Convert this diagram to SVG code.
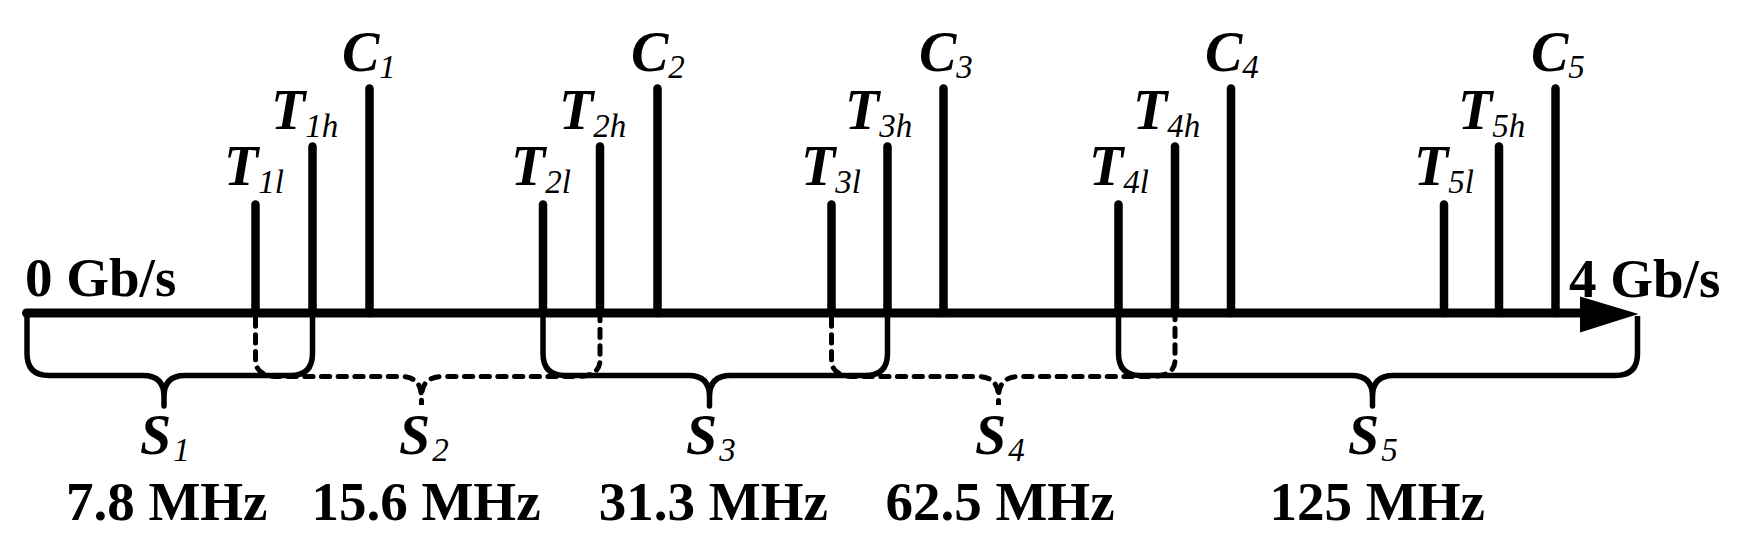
<svg xmlns="http://www.w3.org/2000/svg" width="1746" height="551" viewBox="0 0 1746 551">
<style>
.ax{stroke:#000;stroke-width:9;stroke-linecap:round;fill:none}
.tk{stroke:#000;stroke-width:8.5;stroke-linecap:round}
.br{fill:none;stroke:#000;stroke-width:5.5;stroke-linejoin:round}
.bd{fill:none;stroke:#000;stroke-width:5;stroke-linecap:round;stroke-dasharray:8.3 8.4}
.lb{font-family:"Liberation Serif","Times New Roman",serif;font-weight:bold;font-size:55px;fill:#000}
.sym{font-family:"Liberation Serif","Times New Roman",serif;font-weight:bold;font-style:italic;font-size:56px;fill:#000}
.sub{font-weight:normal;font-style:italic;font-size:33px}
</style>
<rect width="1746" height="551" fill="#fff"/>
<g id="axis">
<line class="ax" x1="26.5" y1="313" x2="1590" y2="313"/>
<polygon points="1580,296.5 1638.5,314 1580,332.5" fill="#000"/>
<text class="lb" x="25" y="296">0 Gb/s</text>
<text class="lb" x="1569" y="297">4 Gb/s</text>
</g>
<g id="connectors">
<path class="bd" d="M255.5 318 V360 Q255.5 376.5 279 376.5 H400.5 Q421.5 376.5 421.5 397.5 V405 V397.5 Q421.5 376.5 442.5 376.5 H576 Q600 376.5 600 360 V318"/>
<path class="bd" d="M831.5 318 V360 Q831.5 376.5 855 376.5 H977.5 Q998.5 376.5 998.5 397.5 V405 V397.5 Q998.5 376.5 1019.5 376.5 H1151 Q1175 376.5 1175 360 V318"/>
<path class="br" d="M27 317 V353.5 Q27 375.5 49 375.5 H143 Q164 375.5 164 396.5 V406 V396.5 Q164 375.5 185 375.5 H290.5 Q312.5 375.5 312.5 353.5 V317"/>
<path class="br" d="M543 317 V353.5 Q543 375.5 565 375.5 H688.5 Q709.5 375.5 709.5 396.5 V406 V396.5 Q709.5 375.5 730.5 375.5 H865.5 Q887.5 375.5 887.5 353.5 V317"/>
<path class="br" d="M1118.5 317 V353.5 Q1118.5 375.5 1140.5 375.5 H1351.5 Q1372.5 375.5 1372.5 396.5 V406 V396.5 Q1372.5 375.5 1393.5 375.5 H1615.5 Q1637.5 375.5 1637.5 353.5 V316"/>
</g>
<g id="T1l"><line class="tk" x1="255.5" y1="204.5" x2="255.5" y2="313"/><text class="sym" x="224" y="185">T<tspan class="sub" dy="8">1l</tspan></text></g>
<g id="T1h"><line class="tk" x1="312.5" y1="146.5" x2="312.5" y2="313"/><text class="sym" x="271" y="129">T<tspan class="sub" dy="8">1h</tspan></text></g>
<g id="C1"><line class="tk" x1="369.5" y1="88.5" x2="369.5" y2="313"/><text class="sym" x="342" y="70.5">C<tspan class="sub" dy="7">1</tspan></text></g>
<g id="T2l"><line class="tk" x1="543" y1="204.5" x2="543" y2="313"/><text class="sym" x="511" y="185">T<tspan class="sub" dy="8">2l</tspan></text></g>
<g id="T2h"><line class="tk" x1="600" y1="146.5" x2="600" y2="313"/><text class="sym" x="559" y="129">T<tspan class="sub" dy="8">2h</tspan></text></g>
<g id="C2"><line class="tk" x1="657.5" y1="88.5" x2="657.5" y2="313"/><text class="sym" x="631" y="70.5">C<tspan class="sub" dy="7">2</tspan></text></g>
<g id="T3l"><line class="tk" x1="831.5" y1="204.5" x2="831.5" y2="313"/><text class="sym" x="801" y="185">T<tspan class="sub" dy="8">3l</tspan></text></g>
<g id="T3h"><line class="tk" x1="887.5" y1="146.5" x2="887.5" y2="313"/><text class="sym" x="845" y="129">T<tspan class="sub" dy="8">3h</tspan></text></g>
<g id="C3"><line class="tk" x1="943.5" y1="88.5" x2="943.5" y2="313"/><text class="sym" x="919" y="70.5">C<tspan class="sub" dy="7">3</tspan></text></g>
<g id="T4l"><line class="tk" x1="1118.5" y1="204.5" x2="1118.5" y2="313"/><text class="sym" x="1089" y="185">T<tspan class="sub" dy="8">4l</tspan></text></g>
<g id="T4h"><line class="tk" x1="1175" y1="146.5" x2="1175" y2="313"/><text class="sym" x="1133" y="129">T<tspan class="sub" dy="8">4h</tspan></text></g>
<g id="C4"><line class="tk" x1="1231" y1="88.5" x2="1231" y2="313"/><text class="sym" x="1205" y="70.5">C<tspan class="sub" dy="7">4</tspan></text></g>
<g id="T5l"><line class="tk" x1="1444" y1="204.5" x2="1444" y2="313"/><text class="sym" x="1414" y="185">T<tspan class="sub" dy="8">5l</tspan></text></g>
<g id="T5h"><line class="tk" x1="1499" y1="146.5" x2="1499" y2="313"/><text class="sym" x="1458" y="129">T<tspan class="sub" dy="8">5h</tspan></text></g>
<g id="C5"><line class="tk" x1="1555.5" y1="88.5" x2="1555.5" y2="313"/><text class="sym" x="1531" y="70.5">C<tspan class="sub" dy="7">5</tspan></text></g>
<g id="S1"><text class="sym" x="140" y="454">S<tspan class="sub" dx="2" dy="7">1</tspan></text><text class="lb" x="166.7" y="520" text-anchor="middle">7.8 MHz</text></g>
<g id="S2"><text class="sym" x="399" y="454">S<tspan class="sub" dx="2" dy="7">2</tspan></text><text class="lb" x="426" y="520" text-anchor="middle">15.6 MHz</text></g>
<g id="S3"><text class="sym" x="686" y="454">S<tspan class="sub" dx="2" dy="7">3</tspan></text><text class="lb" x="713.3" y="520" text-anchor="middle">31.3 MHz</text></g>
<g id="S4"><text class="sym" x="975" y="454">S<tspan class="sub" dx="2" dy="7">4</tspan></text><text class="lb" x="1000" y="520" text-anchor="middle">62.5 MHz</text></g>
<g id="S5"><text class="sym" x="1348" y="454">S<tspan class="sub" dx="2" dy="7">5</tspan></text><text class="lb" x="1377.3" y="520" text-anchor="middle">125 MHz</text></g>
</svg>
